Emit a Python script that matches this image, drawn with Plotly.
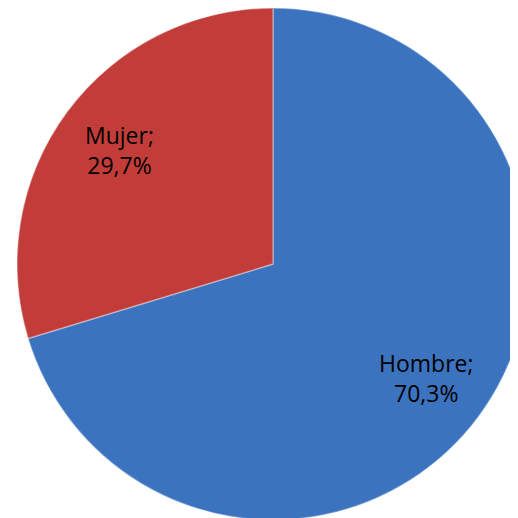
import math

import plotly.graph_objects as go

labels = ["Hombre", "Mujer"]
values = [70.3, 29.7]
value_text = ["70,3%", "29,7%"]
colors = ["#3B73BF", "#C23D3A"]

# figure a bit larger than the window so the pie can sit off-centre like the original
W, H = 530, 526
CX, CY, R = 265, 256, 256  # pie centre / radius in figure pixels (from top-left)

fig = go.Figure(
    go.Pie(
        labels=labels,
        values=values,
        textinfo="none",
        hoverinfo="label+percent",
        marker=dict(colors=colors, line=dict(color="rgba(255,255,255,0.35)", width=1.5)),
        sort=False,
        direction="clockwise",
        rotation=0,
        domain=dict(x=[(CX - R) / W, (CX + R) / W], y=[1 - (CY + R) / H, 1]),
    )
)

# labels sit on each slice's bisector, ~3/4 of the way out
total = sum(values)
start = 0.0
for lab, val, txt in zip(labels, values, value_text):
    theta = math.radians(360 * (start + val / 2) / total)
    start += val
    px = CX + 0.745 * R * math.sin(theta)
    py = CY - 0.745 * R * math.cos(theta)
    fig.add_annotation(
        x=px / W,
        y=1 - py / H,
        xref="paper",
        yref="paper",
        text=f"{lab};<br>{txt}",
        showarrow=False,
        xanchor="center",
        yanchor="middle",
        align="center",
        font=dict(family="Open Sans, sans-serif", size=23, color="black"),
    )

fig.update_layout(
    width=W,
    height=H,
    margin=dict(l=0, r=0, t=0, b=0),
    showlegend=False,
    paper_bgcolor="white",
)
fig.write_html("out.html")
